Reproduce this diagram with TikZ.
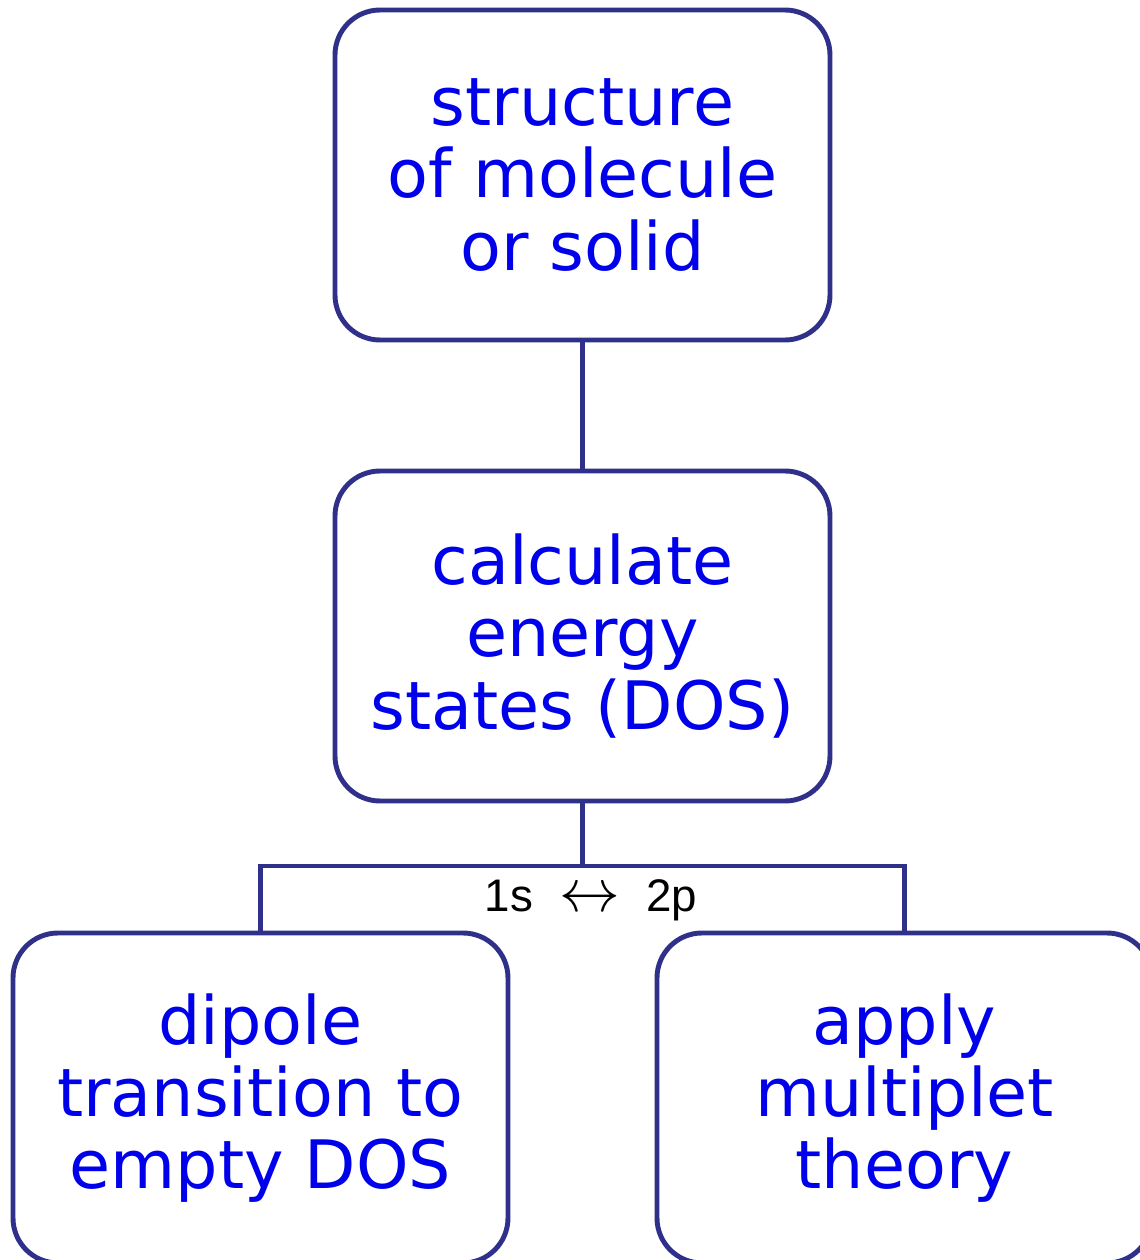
\documentclass[tikz,border=0pt]{standalone}
\usepackage{fontspec}
\setmainfont{DejaVu Sans}
\newfontfamily\labelfont{Liberation Sans}
\definecolor{boxline}{RGB}{46,48,138}
\definecolor{boxtext}{RGB}{0,0,235}
\tikzset{
  stepbox/.style={draw=boxline, line width=1.4pt, rounded corners=0.45cm,
    minimum width=4.95cm, minimum height=3.3cm, align=center,
    text=boxtext, font=\fontsize{19}{20.6}\selectfont},
  link/.style={draw=boxline, line width=1.4pt}
}
\begin{document}
\begin{tikzpicture}
\clip (0,0) rectangle (11.4,12.6);
\useasboundingbox (0,0) rectangle (11.4,12.6);
\node[stepbox] (top) at (5.825,10.85) {structure\\of molecule\\or solid};
\node[stepbox] (mid) at (5.825,6.24) {calculate\\energy\\states (DOS)};
\node[stepbox] (left) at (2.605,1.62) {dipole\\transition to\\empty DOS};
\node[stepbox] (right) at (9.045,1.62) {apply\\multiplet\\theory};
\coordinate (bus) at (5.825,3.94);
\draw[link] (top) -- (mid);
\draw[link] (mid) -- (bus);
\draw[link] (left.north) |- (bus) -| (right.north);
\node[anchor=base, font=\labelfont\fontsize{13}{15}\selectfont] (trans) at (5.91,3.48)
  {1s\hspace{7.5pt}{\fontsize{16}{18}\selectfont$\leftrightarrow$}\hspace{7.5pt}2p};
\end{tikzpicture}
\end{document}
